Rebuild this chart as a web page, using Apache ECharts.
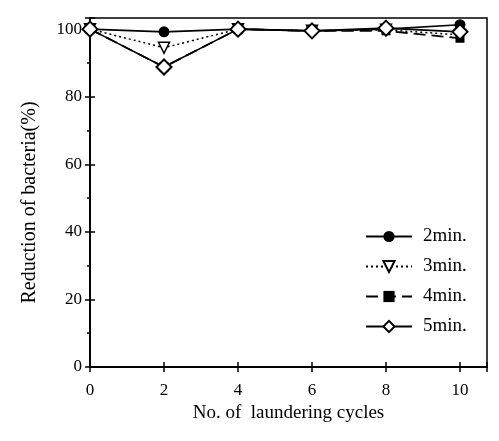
<!DOCTYPE html>
<html>
<head>
<meta charset="utf-8">
<script src="https://cdn.jsdelivr.net/npm/echarts@6/dist/echarts.min.js"></script>
<style>
  html, body { margin: 0; padding: 0; background: #fff; }
  #chart { width: 499px; height: 441px; }
</style>
</head>
<body>
<div id="chart"></div>
<script>
// laundering cycles
var cycles = [0, 2, 4, 6, 8, 10];
// reduction of bacteria (%)
var min2 = [100, 99.2, 100, 99.5, 100, 101.3];
var min3 = [100, 94.5, 100, 99.5, 99.8, 98.3];
var min4 = [100, 88.8, 100, 99.5, 99.5, 97.3];
var min5 = [100, 88.8, 100, 99.5, 100.3, 99.2];

var names = ['2min.', '3min.', '4min.', '5min.'];

function pairs(ys) {
  return cycles.map(function (x, i) { return [x, ys[i]]; });
}

var myChart = echarts.init(document.getElementById('chart'));
var font = '"Liberation Serif", "DejaVu Serif", serif';

var option = {
  animation: false,
  textStyle: { fontFamily: font, color: '#000' },
  grid: {
    left: 90, right: 12, top: 18, bottom: 74,
    show: true, borderColor: '#000', borderWidth: 1.5
  },
  legend: {
    orient: 'vertical',
    left: 365, top: 227, padding: 0,
    itemWidth: 46, itemHeight: 14, itemGap: 11,
    textStyle: { fontFamily: font, fontSize: 19, color: '#000', padding: [0, 0, 0, 6] },
    data: names
  },
  xAxis: [{
    type: 'value', min: 0, max: 10.73, interval: 2,
    name: 'No. of  laundering cycles', nameLocation: 'middle', nameGap: 37,
    nameTextStyle: { fontFamily: font, fontSize: 19, color: '#000' },
    axisLine: { lineStyle: { color: '#000', width: 2 } },
    axisTick: { length: 5, lineStyle: { color: '#000', width: 1.5 } },
    axisLabel: { fontFamily: font, fontSize: 17, color: '#000', margin: 15,
      formatter: function (v) { return v > 10 ? '' : v; } },
    splitLine: { show: false }
  }, {
    type: 'value', min: 0, max: 10.73, interval: 2, position: 'bottom',
    axisLine: { show: false },
    axisTick: { inside: true, length: 5, lineStyle: { color: '#000', width: 1.5 } },
    axisLabel: { show: false }, splitLine: { show: false }
  }],
  yAxis: [{
    type: 'value', min: 0, max: 103.3, interval: 20,
    name: 'Reduction of bacteria(%)', nameLocation: 'middle', nameGap: 50,
    nameTextStyle: { fontFamily: font, fontSize: 20, color: '#000', padding: [0, 20, 0, 0] },
    axisLine: { lineStyle: { color: '#000', width: 2 } },
    axisTick: { length: 5, lineStyle: { color: '#000', width: 1.5 } },
    minorTick: { show: true, splitNumber: 2, length: 3, lineStyle: { color: '#000', width: 1.5 } },
    axisLabel: { fontFamily: font, fontSize: 17, color: '#000', margin: 8,
      formatter: function (v) { return v > 100 ? '' : v; } },
    splitLine: { show: false }
  }, {
    type: 'value', min: 0, max: 103.3, interval: 20, position: 'left',
    axisLine: { show: false },
    axisTick: { inside: true, length: 5, lineStyle: { color: '#000', width: 1.5 } },
    axisLabel: { show: false }, splitLine: { show: false }
  }],
  series: [{
    name: names[0], type: 'line', data: pairs(min2),
    symbol: 'circle', symbolSize: 11,
    itemStyle: { color: '#000' },
    lineStyle: { color: '#000', width: 1.6 }
  }, {
    name: names[1], type: 'line', data: pairs(min3),
    symbol: 'triangle', symbolRotate: 180, symbolSize: 11,
    itemStyle: { color: '#fff', borderColor: '#000', borderWidth: 1.5 },
    lineStyle: { color: '#000', width: 1.5, type: [2, 3] }
  }, {
    name: names[2], type: 'line', data: pairs(min4),
    symbol: 'rect', symbolSize: 9,
    itemStyle: { color: '#000' },
    lineStyle: { color: '#000', width: 1.8, type: [12, 6] }
  }, {
    name: names[3], type: 'line', data: pairs(min5),
    symbol: 'diamond', symbolSize: 15,
    itemStyle: { color: '#fff', borderColor: '#000', borderWidth: 2 },
    lineStyle: { color: '#000', width: 1.6 }
  }]
};

myChart.setOption(option);
</script>
</body>
</html>
